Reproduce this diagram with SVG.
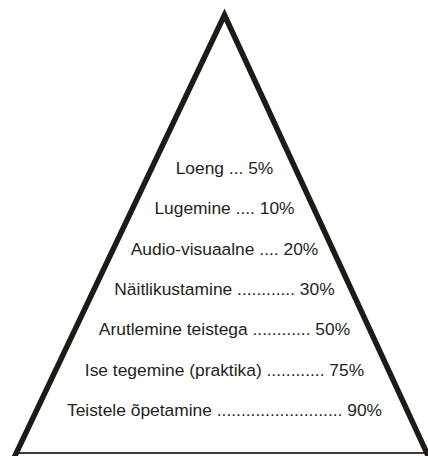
<svg xmlns="http://www.w3.org/2000/svg" width="428" height="456" viewBox="0 0 428 456">
  <style>
    .side { fill: none; stroke: #1e1a18; stroke-width: 5.5; stroke-linejoin: miter; stroke-miterlimit: 20; }
    .base { stroke: #3a3a3a; stroke-width: 2; }
    .lbl { font-family: "Liberation Sans", Arial, sans-serif; font-size: 17.4px; fill: #231f20; text-anchor: middle; }
  </style>
  <rect width="428" height="456" fill="#ffffff"/>
  <g id="pyramid">
    <line class="base" x1="19" y1="453" x2="428" y2="453"/>
    <polyline class="side" points="13,460 224.5,15 431,462"/>
  </g>
  <g id="levels">
    <text id="level-1" class="lbl" x="224.5" y="174">Loeng ... 5%</text>
    <text id="level-2" class="lbl" x="224.5" y="214.3">Lugemine .... 10%</text>
    <text id="level-3" class="lbl" x="224.5" y="254.6">Audio-visuaalne .... 20%</text>
    <text id="level-4" class="lbl" x="224.5" y="294.9">Näitlikustamine ............ 30%</text>
    <text id="level-5" class="lbl" x="224.5" y="335.2">Arutlemine teistega ............ 50%</text>
    <text id="level-6" class="lbl" x="224.5" y="375.5">Ise tegemine (praktika) ............ 75%</text>
    <text id="level-7" class="lbl" x="224.5" y="415.8">Teistele õpetamine .......................... 90%</text>
  </g>
</svg>
